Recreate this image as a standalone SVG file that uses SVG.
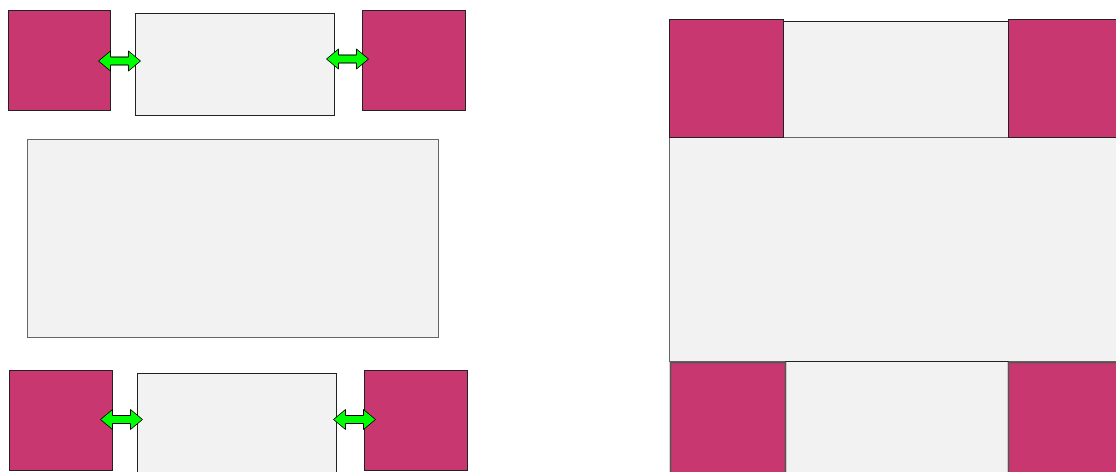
<svg xmlns="http://www.w3.org/2000/svg" width="1116" height="472" viewBox="0 0 1116 472">
<style>
.m{fill:#c83770;stroke:#222;stroke-width:1}
.g{fill:#f2f2f2;stroke:#222;stroke-width:1}
.g2{fill:#f2f2f2;stroke:#666;stroke-width:1}
.a{fill:#00ff00;stroke:#000;stroke-width:1}
</style>
<defs>
<path id="arr" class="a" d="M0,0 L12,-10 L12,-4 L30,-4 L30,-10 L42,0 L30,10 L30,4 L12,4 L12,10 Z"/>
</defs>
<rect width="1116" height="472" fill="#fff"/>
<g id="left-top">
<rect id="lt-m1" class="m" x="8.5" y="10.5" width="102" height="100"/>
<rect id="lt-c" class="g" x="135.5" y="13.5" width="199" height="102"/>
<rect id="lt-m2" class="m" x="362.5" y="10.5" width="103" height="100"/>
</g>
<g id="left-mid">
<rect class="g2" x="27.5" y="139.5" width="411" height="198"/>
</g>
<g id="left-bottom">
<rect id="lb-m1" class="m" x="9.5" y="370.5" width="103" height="100"/>
<rect id="lb-c" class="g" x="137.5" y="373.5" width="199" height="102"/>
<rect id="lb-m2" class="m" x="364.5" y="370.5" width="103" height="100"/>
</g>
<g id="connectors">
<use href="#arr" x="98.5" y="61"/>
<use href="#arr" x="326.5" y="59"/>
<use href="#arr" x="100.5" y="419.5"/>
<use href="#arr" x="333.5" y="419.5"/>
</g>
<g id="right">
<rect id="r-tc" class="g" x="783.5" y="21.5" width="225" height="116"/>
<rect id="r-big" class="g2" x="669.5" y="137.5" width="460" height="224"/>
<rect id="r-bc" class="g" x="785.5" y="361.5" width="223" height="120"/>
<rect id="r-tm1" class="m" x="669.5" y="19.5" width="114" height="118"/>
<rect id="r-tm2" class="m" x="1008.5" y="19.5" width="120" height="118"/>
<rect id="r-bm1" class="m" x="670.5" y="362.5" width="115" height="120" style="stroke:#555;stroke-width:1.5"/>
<rect id="r-bm2" class="m" x="1008.5" y="362.5" width="120" height="120" style="stroke:#555;stroke-width:1.5"/>
</g>
</svg>
